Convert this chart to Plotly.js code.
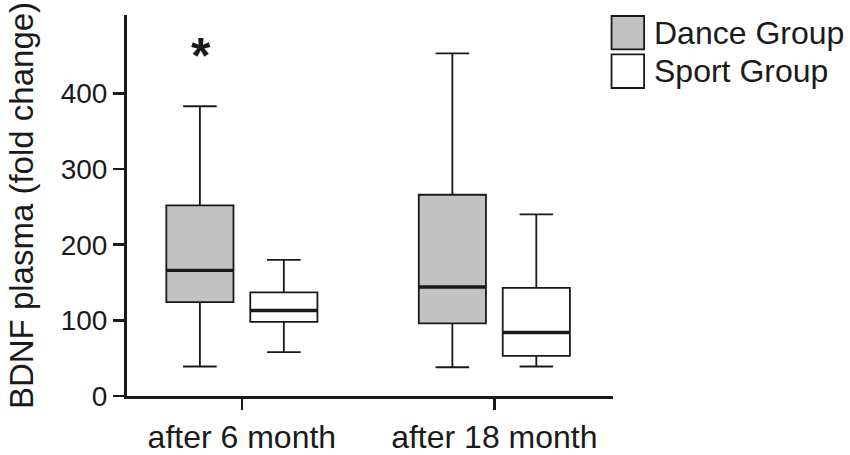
<!DOCTYPE html>
<html>
<head>
<meta charset="utf-8">
<script src="https://cdn.plot.ly/plotly-3.0.1.min.js"></script>
<style>html,body{margin:0;padding:0;background:#fff;}#chart{width:850px;height:455px;}</style>
</head>
<body>
<div id="chart"></div>
<script>
// ---- data ----
const categories = ["after 6 month", "after 18 month"];
const groupNames = ["Dance Group", "Sport Group"];

const danceLower  = [39, 38];
const danceQ1     = [124, 96];
const danceMedian = [166, 144];
const danceQ3     = [252, 266];
const danceUpper  = [383, 453];

const sportLower  = [58, 39];
const sportQ1     = [98, 53];
const sportMedian = [113, 84];
const sportQ3     = [137, 143];
const sportUpper  = [180, 240];

const yTickVals = [0, 100, 200, 300, 400];
const yTitle = "BDNF plasma (fold change)";
const sigMark = "<b>*</b>";
const sigCategory = "after 6 month";
const sigY = 450;

// ---- styles ----
const FONT = "Liberation Sans, Arial, sans-serif";
const INK = "#1a1a1a";
const danceFill = "#c2c2c2";
const sportFill = "#ffffff";

function boxTrace(name, og, lo, q1, med, q3, up, fill) {
  return {
    type: "box", name: name, x: categories,
    lowerfence: lo, q1: q1, median: med, q3: q3, upperfence: up,
    fillcolor: fill, line: {color: INK, width: 1.8},
    whiskerwidth: 0.5, boxpoints: false,
    offsetgroup: og, alignmentgroup: "all",
    showlegend: false, hoverinfo: "skip"
  };
}
function medianTrace(og, med) {
  return {
    type: "box", x: categories,
    lowerfence: med, q1: med, median: med, q3: med, upperfence: med,
    fillcolor: "rgba(0,0,0,0)", line: {color: INK, width: 3.4},
    whiskerwidth: 0, boxpoints: false,
    offsetgroup: og, alignmentgroup: "all",
    showlegend: false, hoverinfo: "skip"
  };
}

const traces = [
  boxTrace(groupNames[0], "d", danceLower, danceQ1, danceMedian, danceQ3, danceUpper, danceFill),
  boxTrace(groupNames[1], "s", sportLower, sportQ1, sportMedian, sportQ3, sportUpper, sportFill),
  medianTrace("d", danceMedian),
  medianTrace("s", sportMedian)
];

const legendFills = [danceFill, sportFill];
const legendY = [[0.910, 0.9974], [0.8084, 0.8968]];
const shapes = legendFills.map((f, i) => ({
  type: "rect", xref: "paper", yref: "paper",
  x0: 0.997, x1: 1.064, y0: legendY[i][0], y1: legendY[i][1],
  fillcolor: f, line: {color: INK, width: 1.8}
}));

const annotations = groupNames.map((n, i) => ({
  xref: "paper", yref: "paper", x: 1.081, y: (legendY[i][0] + legendY[i][1]) / 2,
  xanchor: "left", yanchor: "middle", showarrow: false,
  text: n, font: {family: FONT, size: 32, color: INK}
}));
annotations.push({
  xref: "x", yref: "y", x: sigCategory, y: sigY, xshift: -41,
  showarrow: false, text: sigMark, xanchor: "center", yanchor: "middle",
  font: {family: FONT, size: 50, color: INK}
});

const layout = {
  width: 850, height: 455,
  margin: {l: 127, r: 237, t: 15, b: 59},
  paper_bgcolor: "#fff", plot_bgcolor: "#fff",
  font: {family: FONT, color: INK},
  boxmode: "group", boxgap: 0.335, boxgroupgap: 0.2,
  showlegend: false,
  xaxis: {
    type: "category", range: [-0.455, 1.47],
    showline: true, linewidth: 3, linecolor: INK,
    ticks: "outside", ticklen: 11, tickwidth: 2.5, tickcolor: INK,
    tickfont: {family: FONT, size: 32, color: INK},
    showgrid: false, zeroline: false, fixedrange: true
  },
  yaxis: {
    range: [0, 503.6], tickvals: yTickVals,
    showline: true, linewidth: 3, linecolor: INK,
    ticks: "outside", ticklen: 11, tickwidth: 2.5, tickcolor: INK,
    tickfont: {family: FONT, size: 28, color: INK},
    title: {text: yTitle, font: {family: FONT, size: 33, color: INK}, standoff: 18},
    showgrid: false, zeroline: false, fixedrange: true
  },
  shapes: shapes,
  annotations: annotations
};

Plotly.newPlot("chart", traces, layout, {displayModeBar: false, staticPlot: true});
</script>
</body>
</html>
